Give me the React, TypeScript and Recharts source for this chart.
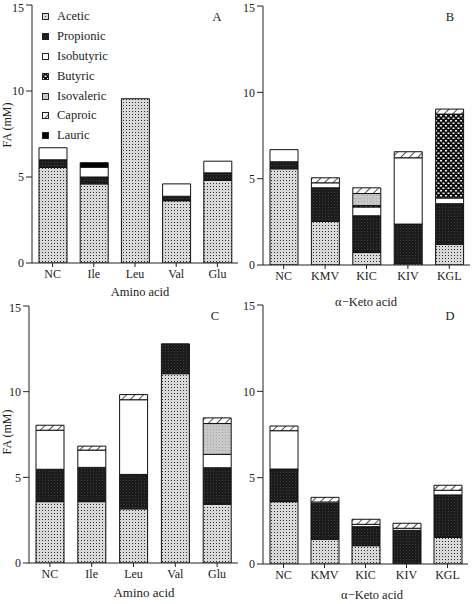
import React from 'react'
import { Bar, BarChart, Legend, XAxis, YAxis } from 'recharts'

const FONT = '"Liberation Serif", "Times New Roman", serif'
const INK = '#222'

const acids = ['Acetic', 'Propionic', 'Isobutyric', 'Butyric', 'Isovaleric', 'Caproic', 'Lauric']
const aminoCats = ['NC', 'Ile', 'Leu', 'Val', 'Glu']
const ketoCats = ['NC', 'KMV', 'KIC', 'KIV', 'KGL']
const yTicks = [0, 5, 10, 15]

// A - amino acids
const aAcetic = [5.55, 4.6, 9.55, 3.62, 4.8]
const aPropionic = [0.45, 0.4, 0, 0.26, 0.44]
const aIsobutyric = [0.7, 0.57, 0, 0.72, 0.68]
const aLauric = [0, 0.26, 0, 0, 0]

// B - keto acids
const bAcetic = [5.57, 2.52, 0.72, 0.1, 1.2]
const bPropionic = [0.41, 1.95, 2.13, 2.27, 2.35]
const bIsobutyric = [0.7, 0.29, 0.51, 3.84, 0.33]
const bButyric = [0, 0, 0.08, 0, 4.86]
const bIsovaleric = [0, 0, 0.7, 0, 0]
const bCaproic = [0, 0.29, 0.33, 0.35, 0.29]

// C - amino acids
const cAcetic = [3.58, 3.58, 3.16, 11.05, 3.43]
const cPropionic = [1.89, 2.0, 2.01, 1.74, 2.13]
const cIsobutyric = [2.28, 1.01, 4.36, 0, 0.78]
const cIsovaleric = [0, 0, 0, 0, 1.8]
const cCaproic = [0.29, 0.23, 0.3, 0, 0.33]

// D - keto acids
const dAcetic = [3.61, 1.43, 1.06, 0, 1.54]
const dPropionic = [1.89, 2.08, 1.1, 1.95, 2.46]
const dIsobutyric = [2.22, 0.08, 0.14, 0.12, 0.27]
const dCaproic = [0.27, 0.27, 0.29, 0.29, 0.29]

type Series = Partial<Record<string, number[]>>

const buildRows = (cats: string[], series: Series) =>
  cats.map((name, i) => {
    const row: Record<string, string | number | undefined> = { name }
    acids.forEach((a) => {
      const v = series[a]?.[i]
      row[a] = v ? v : undefined
    })
    return row
  })

const dataA = buildRows(aminoCats, {
  Acetic: aAcetic,
  Propionic: aPropionic,
  Isobutyric: aIsobutyric,
  Lauric: aLauric,
})
const dataB = buildRows(ketoCats, {
  Acetic: bAcetic,
  Propionic: bPropionic,
  Isobutyric: bIsobutyric,
  Butyric: bButyric,
  Isovaleric: bIsovaleric,
  Caproic: bCaproic,
})
const dataC = buildRows(aminoCats, {
  Acetic: cAcetic,
  Propionic: cPropionic,
  Isobutyric: cIsobutyric,
  Isovaleric: cIsovaleric,
  Caproic: cCaproic,
})
const dataD = buildRows(ketoCats, {
  Acetic: dAcetic,
  Propionic: dPropionic,
  Isobutyric: dIsobutyric,
  Caproic: dCaproic,
})

const fillOf = (p: string, acid: string) => `url(#${p}-${acid.toLowerCase()})`

function Patterns({ p }: { p: string }) {
  return (
    <defs>
      <pattern id={`${p}-acetic`} width={3} height={3} patternUnits='userSpaceOnUse'>
        <rect width={3} height={3} fill='#d9d9d9' />
        <rect width={1} height={1} fill='#333' />
      </pattern>
      <pattern id={`${p}-propionic`} width={3} height={3} patternUnits='userSpaceOnUse'>
        <rect width={3} height={3} fill='#1c1c1c' />
        <rect width={1} height={1} fill='#3c3c3c' />
      </pattern>
      <pattern id={`${p}-isobutyric`} width={4} height={4} patternUnits='userSpaceOnUse'>
        <rect width={4} height={4} fill='#fff' />
      </pattern>
      <pattern id={`${p}-butyric`} width={5} height={5} patternUnits='userSpaceOnUse'>
        <rect width={5} height={5} fill='#111' />
        <rect x={0} y={0} width={2} height={1.5} fill='#eee' />
        <rect x={2.5} y={2.5} width={2} height={1.5} fill='#eee' />
      </pattern>
      <pattern id={`${p}-isovaleric`} width={3} height={3} patternUnits='userSpaceOnUse'>
        <rect width={3} height={3} fill='#c8c8c8' />
        <rect width={1} height={1} fill='#a8a8a8' />
      </pattern>
      <pattern
        id={`${p}-caproic`}
        width={6}
        height={6}
        patternUnits='userSpaceOnUse'
        patternTransform='rotate(45)'
      >
        <rect width={6} height={6} fill='#fff' />
        <line x1={0} y1={0} x2={0} y2={6} stroke='#222' strokeWidth={1.6} />
      </pattern>
      <pattern id={`${p}-lauric`} width={4} height={4} patternUnits='userSpaceOnUse'>
        <rect width={4} height={4} fill='#000' />
      </pattern>
    </defs>
  )
}

const legendContent = (p: string) => () => (
  <div style={{ fontFamily: FONT, fontSize: 12.5, color: INK }}>
    {acids.map((a) => (
      <div key={a} style={{ display: 'flex', alignItems: 'center', height: 19.8 }}>
        <svg width={7} height={7} style={{ marginRight: 8 }}>
          <rect x={0.5} y={0.5} width={6} height={6} fill={fillOf(p, a)} stroke={INK} />
        </svg>
        <span>{a}</span>
      </div>
    ))}
  </div>
)

interface PanelProps {
  id: string
  left: number
  top: number
  width: number
  height: number
  margin: { top: number; right: number; left: number; bottom: number }
  yWidth: number
  xHeight: number
  data: Record<string, string | number | undefined>[]
  letter: string
  letterPos: [number, number]
  xTitle: string
  xTitlePos: [number, number]
  xTitleSize?: number
  yTitlePos?: [number, number]
  legend?: boolean
}

function Panel(props: PanelProps) {
  const { id, data, letterPos, xTitlePos, yTitlePos } = props
  const tick = { fill: INK, fontSize: 12, fontFamily: FONT }
  return (
    <div style={{ position: 'absolute', left: props.left, top: props.top }}>
      <BarChart width={props.width} height={props.height} data={data} margin={props.margin}>
        <Patterns p={id} />
        <XAxis
          dataKey='name'
          interval={0}
          height={props.xHeight}
          tick={tick}
          tickSize={4}
          stroke={INK}
        />
        <XAxis xAxisId='top' dataKey='name' orientation='top' height={0} tick={false} tickLine={false} stroke={INK} />
        <YAxis
          domain={[0, 15]}
          ticks={yTicks}
          width={props.yWidth}
          tick={tick}
          tickSize={6}
          stroke={INK}
          allowDataOverflow
        />
        <YAxis
          yAxisId='right'
          orientation='right'
          domain={[0, 15]}
          width={0}
          tick={false}
          tickLine={false}
          stroke={INK}
        />
        {acids.map((a) => (
          <Bar
            key={a}
            dataKey={a}
            stackId='fa'
            barSize={28}
            fill={fillOf(id, a)}
            stroke='#111'
            strokeWidth={1}
            isAnimationActive={false}
          />
        ))}
        {props.legend && (
          <Legend
            layout='vertical'
            align='center'
            verticalAlign='middle'
            content={legendContent(id)}
            wrapperStyle={{ left: 42, top: 7, width: 'auto', height: 'auto' }}
          />
        )}
        <text
          x={letterPos[0]}
          y={letterPos[1]}
          textAnchor='middle'
          dominantBaseline='central'
          fontFamily={FONT}
          fontSize={12.5}
          fill={INK}
        >
          {props.letter}
        </text>
        <text
          x={xTitlePos[0]}
          y={xTitlePos[1]}
          textAnchor='middle'
          dominantBaseline='central'
          fontFamily={FONT}
          fontSize={props.xTitleSize ?? 12.5}
          fill={INK}
        >
          {props.xTitle}
        </text>
        {yTitlePos && (
          <text
            x={yTitlePos[0]}
            y={yTitlePos[1]}
            transform={`rotate(-90 ${yTitlePos[0]} ${yTitlePos[1]})`}
            textAnchor='middle'
            dominantBaseline='central'
            fontFamily={FONT}
            fontSize={12}
            fill={INK}
          >
            FA (mM)
          </text>
        )}
      </BarChart>
    </div>
  )
}

export default function App() {
  return (
    <div
      style={{
        position: 'absolute',
        left: 0,
        top: 0,
        width: 473,
        height: 604,
        background: '#fff',
        overflow: 'hidden',
      }}
    >
      <Panel
        id='pa'
        left={0}
        top={0}
        width={240}
        height={300}
        margin={{ top: 5, right: 2, left: 0, bottom: 0 }}
        yWidth={32}
        xHeight={37}
        data={dataA}
        letter='A'
        letterPos={[217, 17]}
        xTitle='Amino acid'
        xTitlePos={[140, 292]}
        yTitlePos={[7, 125]}
        legend
      />
      <Panel
        id='pb'
        left={235}
        top={0}
        width={238}
        height={312}
        margin={{ top: 6, right: 3, left: 0, bottom: 0 }}
        yWidth={28}
        xHeight={47}
        data={dataB}
        letter='B'
        letterPos={[215, 17]}
        xTitle='α−Keto acid'
        xTitlePos={[131, 302]}
      />
      <Panel
        id='pc'
        left={0}
        top={300}
        width={240}
        height={304}
        margin={{ top: 6, right: 2, left: 0, bottom: 0 }}
        yWidth={29}
        xHeight={41}
        data={dataC}
        letter='C'
        letterPos={[215, 16]}
        xTitle='Amino acid'
        xTitleSize={13}
        xTitlePos={[144, 292]}
        yTitlePos={[7, 132]}
      />
      <Panel
        id='pd'
        left={235}
        top={298}
        width={238}
        height={306}
        margin={{ top: 7, right: 5, left: 0, bottom: 0 }}
        yWidth={28}
        xHeight={40}
        data={dataD}
        letter='D'
        letterPos={[215, 18]}
        xTitle='α−Keto acid'
        xTitlePos={[137, 297]}
      />
    </div>
  )
}
